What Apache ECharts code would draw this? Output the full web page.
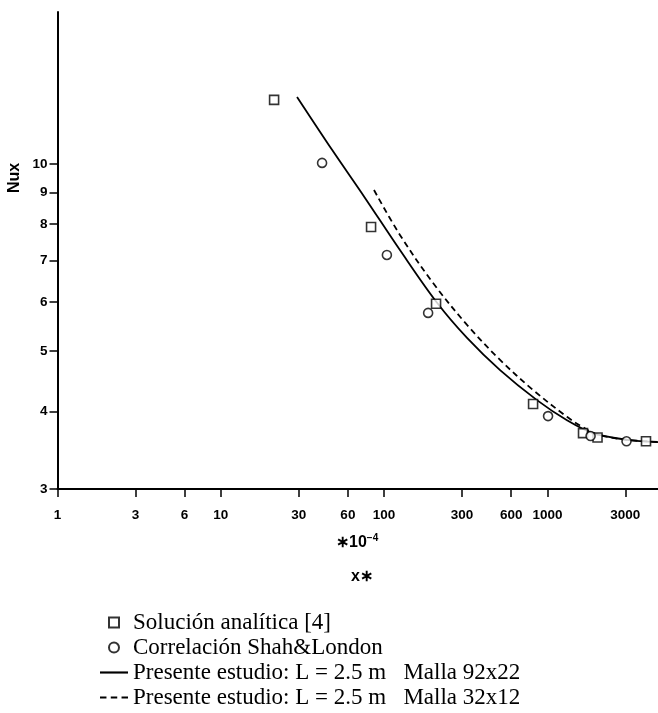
<!DOCTYPE html>
<html><head><meta charset="utf-8">
<script src="https://cdn.jsdelivr.net/npm/echarts@6/dist/echarts.min.js"></script>
<style>html,body{margin:0;padding:0;background:#fff}#c{width:658px;height:713px}</style>
</head><body><div id="c"></div>
<script>
// ---- data ----
const xTicks = [1, 3, 6, 10, 30, 60, 100, 300, 600, 1000, 3000];
const yTicks = [3, 4, 5, 6, 7, 8, 9, 10];
const analyticX = [21.2, 83.2, 208, 817, 1652, 2027, 4015];
const analyticY = [12.68, 7.92, 5.96, 4.11, 3.69, 3.63, 3.58];
const shahX = [41.7, 104, 186, 1009, 1838, 3050];
const shahY = [10.04, 7.14, 5.76, 3.93, 3.65, 3.58];
const fineX = [29.3, 48.0, 76.4, 125, 211, 322, 513, 863, 1318, 1903, 3071, 4755];
const fineY = [12.82, 10.54, 8.82, 7.27, 5.98, 5.25, 4.66, 4.17, 3.87, 3.69, 3.60, 3.57];
const coarseX = [86.7, 125, 199, 322, 513, 816, 1318, 1652, 2027, 3071, 4755];
const coarseY = [9.08, 7.69, 6.44, 5.51, 4.84, 4.33, 3.92, 3.77, 3.67, 3.60, 3.57];
const names = ['Solución analítica [4]', 'Correlación Shah&London',
  'Presente estudio: L = 2.5 m   Malla 92x22', 'Presente estudio: L = 2.5 m   Malla 32x12'];

const zip = (a, b) => a.map((v, i) => [v, b[i]]);
const chart = echarts.init(document.getElementById('c'));
const sans = 'Liberation Sans';
chart.setOption({
  animation: false,
  backgroundColor: '#fff',
  grid: { left: 57.5, right: 0, top: 12, bottom: 224, containLabel: false, outerBoundsMode: 'none' },
  xAxis: {
    type: 'log', logBase: 10, min: 1, max: 4755,
    axisLine: { lineStyle: { color: '#000', width: 2 } },
    axisTick: { customValues: xTicks, length: 8, lineStyle: { color: '#000', width: 1.5 } },
    axisLabel: { customValues: xTicks, margin: 19, color: '#000', fontFamily: sans, fontWeight: 'bold', fontSize: 13.5,
      formatter: v => String(Math.round(v)) },
    splitLine: { show: false }
  },
  yAxis: {
    type: 'log', logBase: 10, min: 3, max: 17.56,
    axisLine: { lineStyle: { color: '#000', width: 2 } },
    axisTick: { customValues: yTicks, length: 8, lineStyle: { color: '#000', width: 1.5 } },
    axisLabel: { customValues: yTicks, margin: 10, color: '#000', fontFamily: sans, fontWeight: 'bold', fontSize: 13.5,
      formatter: v => String(Math.round(v)) },
    splitLine: { show: false }
  },
  legend: {
    orient: 'vertical', left: 100, top: 610, padding: 0, itemWidth: 28, itemHeight: 10, itemGap: 0,
    symbolKeepAspect: true, height: 103,
    textStyle: { fontFamily: 'Liberation Serif', fontSize: 23, color: '#000', lineHeight: 25 },
    data: [
      { name: names[0], icon: 'path://M0,0H10V10H0Z' },
      { name: names[1], icon: 'path://M5,0A5,5,0,1,1,4.99,0Z' },
      { name: names[2], icon: 'path://M0,0H26V2H0Z' },
      { name: names[3], icon: 'path://M0,0H6V2H0Z M10,0H16V2H10Z M20,0H26V2H20Z' }
    ]
  },
  series: [
    { name: names[0], type: 'scatter', data: zip(analyticX, analyticY), symbol: 'rect', symbolSize: 9,
      itemStyle: { color: '#fff', borderColor: '#000', borderWidth: 1.6 }, z: 5 },
    { name: names[1], type: 'scatter', data: zip(shahX, shahY), symbol: 'circle', symbolSize: 9,
      itemStyle: { color: '#fff', borderColor: '#000', borderWidth: 1.6 }, z: 5 },
    { name: names[2], type: 'line', data: zip(fineX, fineY), smooth: 0.35, showSymbol: false, symbol: 'none',
      lineStyle: { color: '#000', width: 1.8 }, itemStyle: { color: '#000', borderWidth: 0 } },
    { name: names[3], type: 'line', data: zip(coarseX, coarseY), smooth: 0.35, showSymbol: false, symbol: 'none',
      lineStyle: { color: '#000', width: 1.8, type: [6, 4] }, itemStyle: { color: '#000', borderWidth: 0 } }
  ],
  graphic: [
    { type: 'text', left: 336, top: 533, style: { text: '{a|∗10}{s|−4}', rich: {
        a: { fontFamily: sans, fontSize: 16, fontWeight: 'bold', fill: '#000' },
        s: { fontFamily: sans, fontSize: 10, fontWeight: 'bold', fill: '#000', verticalAlign: 'top', padding: [0,0,9,0] } } } },
    { type: 'text', left: 351, top: 569, style: { text: 'x∗', fontFamily: sans, fontSize: 16, fontWeight: 'bold', fill: '#000' } },
    { type: 'text', x: 7, y: 178, rotation: Math.PI / 2, style: { text: 'Nux', fontFamily: sans, fontSize: 16, fontWeight: 'bold',
        fill: '#000', align: 'center', verticalAlign: 'top' } }
  ]
});
</script></body></html>
